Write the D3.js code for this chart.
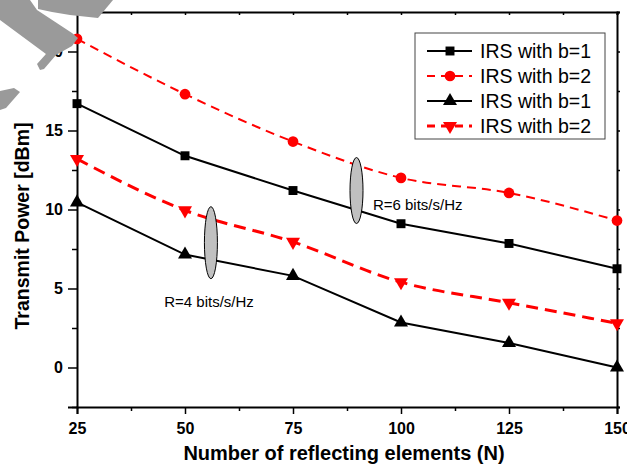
<!DOCTYPE html>
<html>
<head>
<meta charset="utf-8">
<script src="https://cdn.jsdelivr.net/npm/d3@7"></script>
<style>
  body { margin: 0; background: #fff; }
  text { font-family: "Liberation Sans", Arial, sans-serif; }
</style>
</head>
<body>
<svg id="Diagram"></svg>
<script>
// chart values
var elements = [25, 50, 75, 100, 125, 150];
var sqB1 = [16.7, 13.4, 11.2, 9.1, 7.85, 6.25];      // R=6, b=1
var circB2 = [20.8, 17.3, 14.3, 12.0, 11.05, 9.3];   // R=6, b=2
var triB1 = [10.45, 7.15, 5.8, 2.85, 1.55, 0.0];     // R=4, b=1
var dtriB2 = [13.2, 9.95, 7.95, 5.4, 4.1, 2.8];      // R=4, b=2
var xTicks = [25, 50, 75, 100, 125, 150];
var yTicks = [0, 5, 10, 15, 20];
var legendLabels = ["IRS with b=1", "IRS with b=2", "IRS with b=1", "IRS with b=2"];

var W = 627, H = 475;
var margin = {"left": 77, "right": 10, "top": 12, "bottom": 68};
var width = W - margin.left - margin.right, height = H - margin.top - margin.bottom;

var svg = d3.select("#Diagram").attr("width", W).attr("height", H);
var g = svg.append("g").attr("transform", "translate(" + margin.left + "," + margin.top + ")");

var x = d3.scaleLinear().domain([25, 150]).range([0, width]);
var y = d3.scaleLinear().domain([-2.5, 22.5]).range([height, 0]);

// axes, major + minor ticks
function styleAxis(a) {
    a.select(".domain").attr("stroke", "#000").attr("stroke-width", 2);
    a.selectAll(".tick line").attr("stroke", "#000").attr("stroke-width", 1.5);
    a.selectAll("text").attr("font-weight", "bold").attr("font-size", 16).attr("fill", "#000");
}
var xMinor = d3.range(37.5, 150, 25), yMinor = d3.range(-2.5, 22.6, 5);

var xb = g.append("g").attr("transform", "translate(0," + height + ")")
    .call(d3.axisBottom(x).tickValues(xTicks).tickSize(7).tickPadding(9));
styleAxis(xb);
g.append("g").attr("transform", "translate(0," + height + ")")
    .call(d3.axisBottom(x).tickValues(xMinor).tickSize(4).tickFormat(""))
    .call(function(a) { styleAxis(a); a.select(".domain").remove(); });

var yl = g.append("g").call(d3.axisLeft(y).tickValues(yTicks).tickSize(9).tickPadding(5));
styleAxis(yl);
g.append("g").call(d3.axisLeft(y).tickValues(yMinor).tickSize(5).tickFormat(""))
    .call(function(a) { styleAxis(a); a.select(".domain").remove(); });

var xt = g.append("g").call(d3.axisTop(x).tickValues(xTicks.concat(xMinor)).tickSize(-3).tickFormat(""));
styleAxis(xt);
var yr = g.append("g").attr("transform", "translate(" + width + ",0)")
    .call(d3.axisRight(y).tickValues(yTicks.concat(yMinor)).tickSize(3).tickFormat(""));
styleAxis(yr);

// axis titles
svg.append("text").attr("x", margin.left + width / 2 - 3).attr("y", 460)
    .attr("text-anchor", "middle").attr("font-weight", "bold").attr("font-size", 20)
    .text("Number of reflecting elements (N)");
svg.append("text").attr("transform", "translate(29,226) rotate(-90)")
    .attr("text-anchor", "middle").attr("font-weight", "bold").attr("font-size", 19.5)
    .text("Transmit Power [dBm]");

// series
var series = [
    {vals: sqB1, color: "#000", width: 2, dash: null, curve: d3.curveLinear, sym: d3.symbolSquare, size: 80, rot: 0},
    {vals: circB2, color: "#f00", width: 2, dash: "9,6", curve: d3.curveMonotoneX, sym: d3.symbolCircle, size: 90, rot: 0},
    {vals: triB1, color: "#000", width: 2, dash: null, curve: d3.curveLinear, sym: d3.symbolTriangle, size: 85, rot: 0},
    {vals: dtriB2, color: "#f00", width: 3, dash: "12,7", curve: d3.curveMonotoneX, sym: d3.symbolTriangle, size: 85, rot: 180}
];

var plot = g.append("g");
series.forEach(function(s) {
    var pts = elements.map(function(n, i) { return [n, s.vals[i]]; });
    var line = d3.line().x(function(d) { return x(d[0]); }).y(function(d) { return y(d[1]); }).curve(s.curve);
    plot.append("path").datum(pts).attr("d", line).attr("fill", "none")
        .attr("stroke", s.color).attr("stroke-width", s.width).attr("stroke-dasharray", s.dash);
    plot.selectAll(null).data(pts).enter().append("path")
        .attr("d", d3.symbol().type(s.sym).size(s.size))
        .attr("transform", function(d) { return "translate(" + x(d[0]) + "," + y(d[1]) + ") rotate(" + s.rot + ")"; })
        .attr("fill", s.color);
});

// group ellipses and rate labels
var groups = [
    {n: 89.7, v: 11.2, ry: 33, label: "R=6 bits/s/Hz", ln: 93.5, lv: 10.0},
    {n: 56.0, v: 7.9, ry: 36, label: "R=4 bits/s/Hz", ln: 45.2, lv: 3.8}
];
groups.forEach(function(o) {
    g.append("ellipse").attr("cx", x(o.n)).attr("cy", y(o.v)).attr("rx", 6.5).attr("ry", o.ry)
        .attr("fill", "#c0c0c0").attr("stroke", "#000").attr("stroke-width", 1);
    g.append("text").attr("x", x(o.ln)).attr("y", y(o.lv)).attr("font-size", 15).text(o.label);
});

// legend
var leg = svg.append("g").attr("transform", "translate(415,33)");
leg.append("rect").attr("width", 190).attr("height", 106).attr("fill", "#fff")
    .attr("stroke", "#444").attr("stroke-width", 1);
series.forEach(function(s, i) {
    var yy = 18 + i * 25;
    leg.append("line").attr("x1", 12).attr("x2", 57).attr("y1", yy).attr("y2", yy)
        .attr("stroke", s.color).attr("stroke-width", s.width).attr("stroke-dasharray", s.dash ? "8,6" : null);
    leg.append("path").attr("d", d3.symbol().type(s.sym).size(s.size))
        .attr("transform", "translate(35," + yy + ") rotate(" + s.rot + ")").attr("fill", s.color);
    leg.append("text").attr("x", 65).attr("y", yy + 7).attr("font-size", 19.5).text(legendLabels[i]);
});

// grey watermark fragment in the corner
var wm = svg.append("g").attr("fill", "#9a9a9a");
wm.append("path").attr("d", "M0,0 L30,0 L37,10 L72,33 L78,38 L72,46 L56,55 L44,69 L40,70 L37,64 L46,54 L0,20 Z");
wm.append("path").attr("d", "M38,0 L113,0 L98,18 L70,15 L52,12 L38,9 Z");
wm.append("path").attr("d", "M0,91 L14,88 L20,92 L6,108 L0,110 Z");
</script>
</body>
</html>
